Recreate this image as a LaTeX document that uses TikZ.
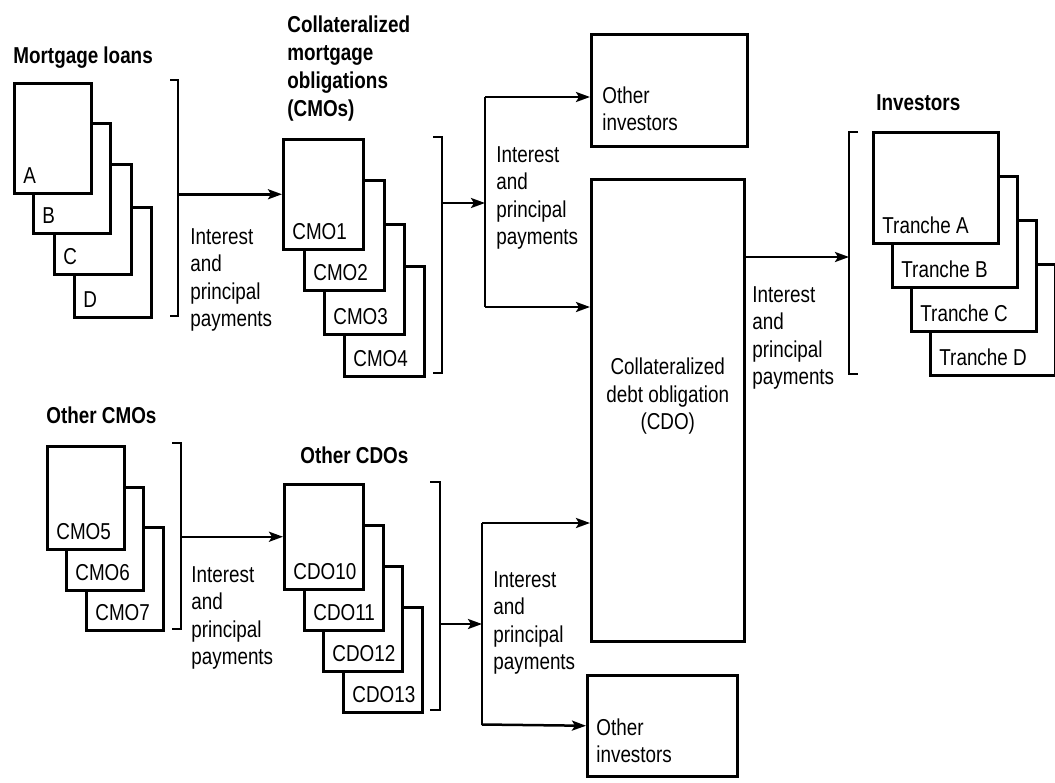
\documentclass[tikz,border=0pt]{standalone}
\usepackage{fontspec}
\setmainfont{Liberation Sans}[FakeStretch=0.82]
\usetikzlibrary{arrows.meta,positioning}

\begin{document}
\begin{tikzpicture}[
    x=0.5pt, y=-0.5pt,
    font=\fontsize{11.5pt}{13.75pt}\selectfont,
    box/.style={draw, fill=white, line width=1.25pt, anchor=north west, inner sep=0pt},
    loan/.style={box, minimum width=38.5pt, minimum height=55pt},
    cmo/.style={box, minimum width=40pt, minimum height=55pt},
    tranche/.style={box, minimum width=62.5pt, minimum height=55.5pt},
    ocmo/.style={box, minimum width=38.5pt, minimum height=51.5pt},
    ocdo/.style={box, minimum width=39.5pt, minimum height=52.5pt},
    stacklbl/.style={anchor=base west, inner sep=0pt, xshift=5pt, yshift=5.5pt},
    txt/.style={align=left, inner sep=0pt, anchor=north west},
    title/.style={font=\fontsize{11.5pt}{14pt}\selectfont\bfseries, align=left, inner sep=0pt},
    bracket/.style={line width=1.25pt},
    arrow/.style={line width=1.25pt, ->, >={Stealth[length=7pt,width=5pt,inset=1.5pt]}}
]
\useasboundingbox (0,0) rectangle (1055,782);

% Titles
\node[title, anchor=base west] (loans) at (13,63) {Mortgage loans};
\node[title, anchor=north west] (cmos) at (287,15) {Collateralized\\mortgage\\obligations\\(CMOs)};
\node[title, anchor=base west] (inv) at (876,110) {Investors};
\node[title, anchor=base west] (ocmos) at (46,423) {Other CMOs};
\node[title, anchor=base west] (ocdos) at (300,463) {Other CDOs};

% Mortgage loans
\node[loan, label={[stacklbl]south west:D}] (loanD) at (73,206) {};
\node[loan, label={[stacklbl]south west:C}] (loanC) at (53,163) {};
\node[loan, label={[stacklbl]south west:B}] (loanB) at (32,122) {};
\node[loan, label={[stacklbl]south west:A}] (loanA) at (13,82) {};

% CMOs
\node[cmo, label={[stacklbl]south west:CMO4}] (cmo4) at (343,265) {};
\node[cmo, label={[stacklbl]south west:CMO3}] (cmo3) at (323,223) {};
\node[cmo, label={[stacklbl]south west:CMO2}] (cmo2) at (303,179) {};
\node[cmo, label={[stacklbl]south west:CMO1}] (cmo1) at (282,138) {};

% Other CMOs
\node[ocmo, label={[stacklbl]south west:CMO7}] (cmo7) at (85,526) {};
\node[ocmo, label={[stacklbl]south west:CMO6}] (cmo6) at (65,486) {};
\node[ocmo, label={[stacklbl]south west:CMO5}] (cmo5) at (46,445) {};

% Other CDOs
\node[ocdo, label={[stacklbl]south west:CDO13}] (cdo13) at (342,606) {};
\node[ocdo, label={[stacklbl]south west:CDO12}] (cdo12) at (322,565) {};
\node[ocdo, label={[stacklbl]south west:CDO11}] (cdo11) at (303,524) {};
\node[ocdo, label={[stacklbl]south west:CDO10}] (cdo10) at (283,483) {};

% Investors
\node[tranche, label={[stacklbl]south west:Tranche D}] (tranD) at (929,263) {};
\node[tranche, label={[stacklbl]south west:Tranche C}] (tranC) at (910,219) {};
\node[tranche, label={[stacklbl]south west:Tranche B}] (tranB) at (891,175) {};
\node[tranche, label={[stacklbl]south west:Tranche A}] (tranA) at (872,131) {};

% CDO and other investors
\node[box, minimum width=76.5pt, minimum height=231pt,
      label={[align=center, inner sep=0pt, yshift=7pt]center:Collateralized\\debt obligation\\(CDO)}] (cdo) at (590,178) {};
\node[box, minimum width=78pt, minimum height=56pt,
      label={[txt, xshift=6pt, yshift=-26.5pt]north west:Other\\investors}] (oth1) at (590,33) {};
\node[box, minimum width=75pt, minimum height=50.5pt,
      label={[txt, xshift=5pt, yshift=-22pt]north west:Other\\investors}] (oth2) at (586,674) {};

% Payment texts
\node[txt] (pay1) at (190,228) {Interest\\and\\principal\\payments};
\node[txt] (pay2) at (496,146) {Interest\\and\\principal\\payments};
\node[txt] (pay3) at (752,286) {Interest\\and\\principal\\payments};
\node[txt] (pay4) at (191,566) {Interest\\and\\principal\\payments};
\node[txt] (pay5) at (493,571) {Interest\\and\\principal\\payments};

% Brackets
\coordinate (br1t) at (178,80);  \coordinate (br1b) at (178,316);
\coordinate (br2t) at (442,137); \coordinate (br2b) at (442,373);
\coordinate (br3t) at (181,443); \coordinate (br3b) at (181,629);
\coordinate (br4t) at (440,482); \coordinate (br4b) at (440,710);
\coordinate (br5t) at (849,132); \coordinate (br5b) at (849,374);
\draw[bracket] ([xshift=-4pt]br1t) -- (br1t) -- (br1b) -- ([xshift=-4pt]br1b);
\draw[bracket] ([xshift=-4.5pt]br2t) -- (br2t) -- (br2b) -- ([xshift=-4.5pt]br2b);
\draw[bracket] ([xshift=-4.5pt]br3t) -- (br3t) -- (br3b) -- ([xshift=-4.5pt]br3b);
\draw[bracket] ([xshift=-5pt]br4t) -- (br4t) -- (br4b) -- ([xshift=-5pt]br4b);
\draw[bracket] ([xshift=4.5pt]br5t) -- (br5t) -- (br5b) -- ([xshift=4.5pt]br5b);

% Forks
\coordinate (fork1t) at (485,97);  \coordinate (fork1m) at (485,203); \coordinate (fork1b) at (485,307);
\coordinate (fork2t) at (482,523); \coordinate (fork2m) at (482,624); \coordinate (fork2b) at (482,724.5);
\draw[bracket] (fork1t) -- (fork1b);
\draw[bracket] (fork2t) -- (fork2b);

% Arrows
\draw[arrow] (cmo1.west -| br1t) -- (cmo1.west);
\draw[arrow] (fork1m -| br2t) -- (fork1m);
\draw[arrow] (fork1t) -- (fork1t -| oth1.west);
\draw[arrow] (fork1b) -- (fork1b -| cdo.west);
\draw[arrow] (cdo10.west -| br3t) -- (cdo10.west);
\draw[arrow] (fork2m -| br4t) -- (fork2m);
\draw[arrow] (fork2t) -- (fork2t -| cdo.west);
\draw[arrow] (fork2b) -- (oth2.west);
\coordinate (br5m) at (849,257);
\draw[arrow] (cdo.east |- br5m) -- (br5m);

\end{tikzpicture}
\end{document}
